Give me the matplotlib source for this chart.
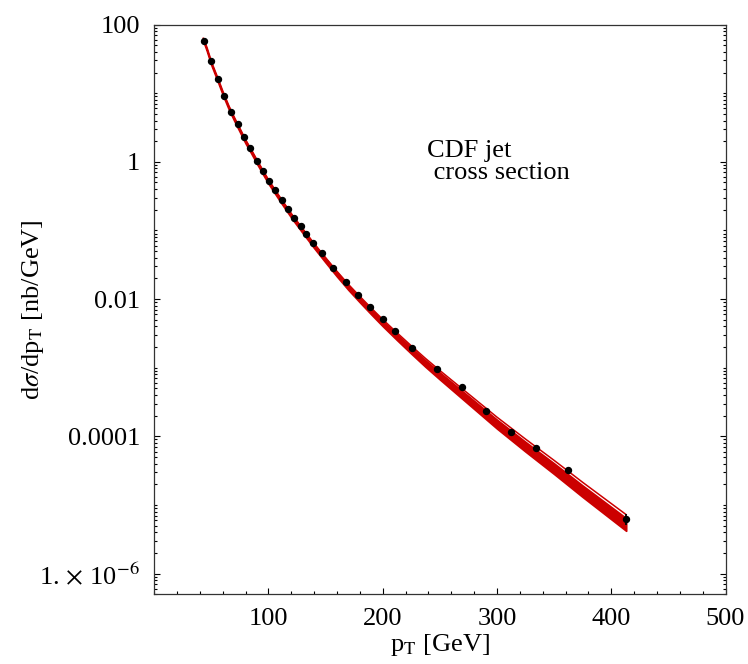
import numpy as np
import matplotlib
matplotlib.use('Agg')
import matplotlib.pyplot as plt
from matplotlib.ticker import FixedLocator, FixedFormatter, MultipleLocator, NullFormatter

plt.rcParams['font.family'] = ['Liberation Serif', 'DejaVu Serif']
plt.rcParams['mathtext.fontset'] = 'stix'

# CDF data points (pT in GeV, dsigma/dpT in nb/GeV)
data_pt = [43.7, 49.9, 56.0, 61.5, 67.4, 73.2, 78.7, 84.3, 89.9, 95.1, 100.6,
           106.1, 111.7, 117.0, 122.5, 128.2, 133.2, 138.8, 146.5, 156.9, 168.0,
           178.7, 189.2, 200.1, 210.8, 226.0, 247.3, 269.2, 290.7, 312.6, 334.0,
           362.5, 413.0]
data_xs = [58.5, 29.6, 16.2, 9.04, 5.36, 3.59, 2.27, 1.57, 1.04, 0.741, 0.519,
           0.384, 0.277, 0.203, 0.151, 0.116, 0.0887, 0.0667, 0.0469, 0.0281,
           0.0177, 0.0115, 0.0076, 0.0052, 0.00348, 0.00197, 0.000973, 0.000532,
           0.000235, 0.000116, 6.8e-5, 3.22e-5, 6.24e-6]
data_err = [1.0, 0.5, 0.3, 0.15, 0.09, 0.06, 0.04, 0.03, 0.02, 0.013, 0.009,
            0.007, 0.005, 0.004, 0.003, 0.002, 0.0016, 0.0012, 0.0008, 0.0005,
            0.0003, 0.0002, 0.00014, 0.0001, 7e-5, 4e-5, 2.2e-5, 1.3e-5,
            7e-6, 4e-6, 2.5e-6, 2.2e-6, 1.1e-6]

# theory curves, log10 of dsigma/dpT
curve_pt = [43, 46, 50, 55, 60, 65, 70, 75, 80, 85, 90, 95, 100, 110, 120, 130,
            140, 150, 160, 170, 180, 190, 200, 212.5, 225, 237.5, 250, 262.5,
            275, 287.5, 300, 325, 350, 375, 413]
upper_log = [1.80, 1.66, 1.45, 1.24, 1.02, 0.82, 0.645, 0.48, 0.315, 0.17, 0.02,
             -0.125, -0.265, -0.515, -0.755, -0.975, -1.19, -1.395, -1.595,
             -1.785, -1.96, -2.13, -2.295, -2.49, -2.68, -2.865, -3.04, -3.21,
             -3.38, -3.55, -3.72, -4.04, -4.35, -4.67, -5.14]
band_top_log = [1.80, 1.66, 1.45, 1.24, 1.02, 0.82, 0.645, 0.48, 0.315, 0.17,
                0.02, -0.125, -0.267, -0.519, -0.761, -0.983, -1.20, -1.407,
                -1.609, -1.801, -1.978, -2.15, -2.317, -2.514, -2.706, -2.893,
                -3.07, -3.242, -3.414, -3.586, -3.758, -4.082, -4.395, -4.718,
                -5.192]
band_bot_log = [1.765, 1.625, 1.415, 1.203, 0.982, 0.78, 0.604, 0.438, 0.271,
                0.125, -0.026, -0.173, -0.315, -0.568, -0.812, -1.036, -1.255,
                -1.465, -1.67, -1.865, -2.046, -2.222, -2.393, -2.596, -2.794,
                -2.987, -3.17, -3.349, -3.528, -3.707, -3.886, -4.222, -4.548,
                -4.883, -5.375]

ytick_vals = [1e2, 1e0, 1e-2, 1e-4, 1e-6]
ytick_labels = ['100', '1', '0.01', '0.0001', r'1.$\,\times\,$10$^{-6}$']
xtick_vals = [100, 200, 300, 400, 500]

red = '#cc0000'

fig = plt.figure(figsize=(7.48, 6.64), dpi=100)
ax = fig.add_axes([0.206, 0.105, 0.764, 0.858])

cx = np.array(curve_pt)
ax.fill_between(cx, 10 ** np.array(band_bot_log), 10 ** np.array(band_top_log),
                color=red, lw=1.3, edgecolor=red)
ax.plot(cx, 10 ** np.array(upper_log), color=red, lw=1.1)

ax.errorbar(data_pt, data_xs, yerr=data_err, fmt='o', color='black',
            ms=4.3, elinewidth=1.3, capsize=0, zorder=5)

ax.set_yscale('log')
ax.set_xlim(0, 500)
ax.set_ylim(5e-7, 100)

ax.yaxis.set_major_locator(FixedLocator(ytick_vals))
ax.yaxis.set_major_formatter(FixedFormatter(ytick_labels))
minor = []
for k in range(-7, 2):
    for m in range(2, 10):
        minor.append(m * 10.0 ** k)
for k in [-5, -3, -1, 1]:
    minor.append(10.0 ** k)
ax.yaxis.set_minor_locator(FixedLocator(minor))
ax.yaxis.set_minor_formatter(NullFormatter())

ax.xaxis.set_major_locator(FixedLocator(xtick_vals))
ax.xaxis.set_minor_locator(MultipleLocator(20))

ax.tick_params(which='both', direction='in', top=False, right=True,
               labelsize=19, width=0.8, colors='black')
ax.tick_params(which='major', length=4, pad=10)
ax.tick_params(which='minor', length=2)
for s in ax.spines.values():
    s.set_linewidth(0.9)
    s.set_color('#333333')

ax.set_xlabel(r'p$_\mathrm{T}$ [GeV]', fontsize=19, labelpad=1)
ax.set_ylabel(r'd$\sigma$/dp$_\mathrm{T}$ [nb/GeV]', fontsize=19)
ax.yaxis.set_label_coords(-0.19, 0.5)

ax.text(239, 1.0, 'CDF jet\n cross section', fontsize=19, ha='left',
        va='center', linespacing=1.0)

fig.savefig('out.png', dpi=100)
